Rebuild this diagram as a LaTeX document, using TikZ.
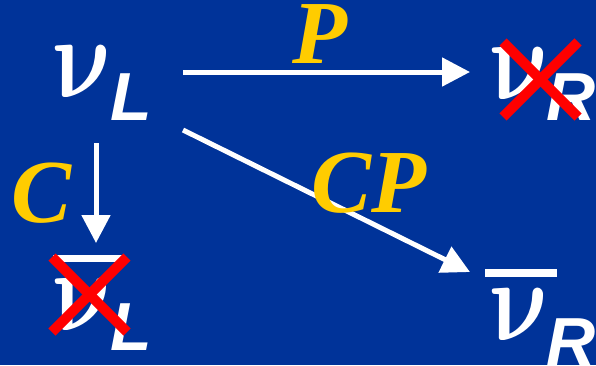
\documentclass[tikz,border=0pt]{standalone}
\usepackage{fix-cm}
\usepackage{fontspec}
\setmainfont{Liberation Serif}
\newfontfamily\sansbi{Liberation Sans}[BoldItalicFont={* Bold Italic}]
\usetikzlibrary{arrows.meta}
\definecolor{bgblue}{RGB}{0,51,153}
\definecolor{opyellow}{RGB}{255,204,0}
\tikzset{
  x=1pt, y=-1pt,
  nuglyph/.style={inner sep=0pt, text=white, xslant=-0.2, xscale=0.82, transform shape,
    font=\fontsize{116}{116}\selectfont\boldmath},
  chiral/.style={inner sep=0pt, text=white, font=\fontsize{68}{68}\selectfont\sansbi\bfseries\itshape},
  oplabel/.style={inner sep=0pt, text=opyellow, font=\fontsize{90}{90}\selectfont\bfseries\itshape},
  arr/.style={draw=white, line width=5pt, -{Triangle[length=28pt,width=28pt]}},
  crossout/.style={draw=red, line width=10pt},
  barline/.style={fill=white},
}
\begin{document}
\begin{tikzpicture}
  \fill[bgblue] (0,0) rectangle (596,365);
  \useasboundingbox (0,0) rectangle (596,365);

  % left-handed neutrino
  \node[nuglyph, anchor=base west] (nuL) at (58,97) {$\nu$};
  \node[chiral, anchor=base west] (nuLs) at (110,120) {L};

  % right-handed neutrino (forbidden)
  \node[nuglyph, anchor=base west] (nuR) at (495,99) {$\nu$};
  \node[chiral, anchor=base west] (nuRs) at (546,120) {R};
  \draw[crossout] (503,42) -- (578,117);
  \draw[crossout] (503,117) -- (578,42);

  % left-handed antineutrino (forbidden)
  \fill[barline] (53,255) rectangle (125,262);
  \node[nuglyph, anchor=base west] (anL) at (58,330) {$\nu$};
  \node[chiral, anchor=base west] (anLs) at (110,350) {L};
  \draw[crossout] (52,257) -- (127,332);
  \draw[crossout] (52,332) -- (127,257);

  % right-handed antineutrino
  \fill[barline] (485,269) rectangle (557,277);
  \node[nuglyph, anchor=base west] (anR) at (495,340) {$\nu$};
  \node[chiral, anchor=base west] (anRs) at (546,365) {R};

  % transformation arrows
  \coordinate (pFrom) at (183,72);
  \coordinate (pTo) at (470,72);
  \coordinate (cpFrom) at (183,130);
  \coordinate (cpTo) at (470,272);
  \coordinate (cFrom) at (96,143);
  \coordinate (cTo) at (96,243);
  \draw[arr] (pFrom) -- (pTo);
  \draw[arr] (cpFrom) -- (cpTo);
  \draw[arr] (cFrom) -- (cTo);

  % operator labels
  \node[oplabel, anchor=base west] (opP) at (292,63) {P};
  \node[oplabel, anchor=base west] (opCP) at (311,212) {CP};
  \node[oplabel, anchor=base west] (opC) at (11,222) {C};
\end{tikzpicture}
\end{document}
